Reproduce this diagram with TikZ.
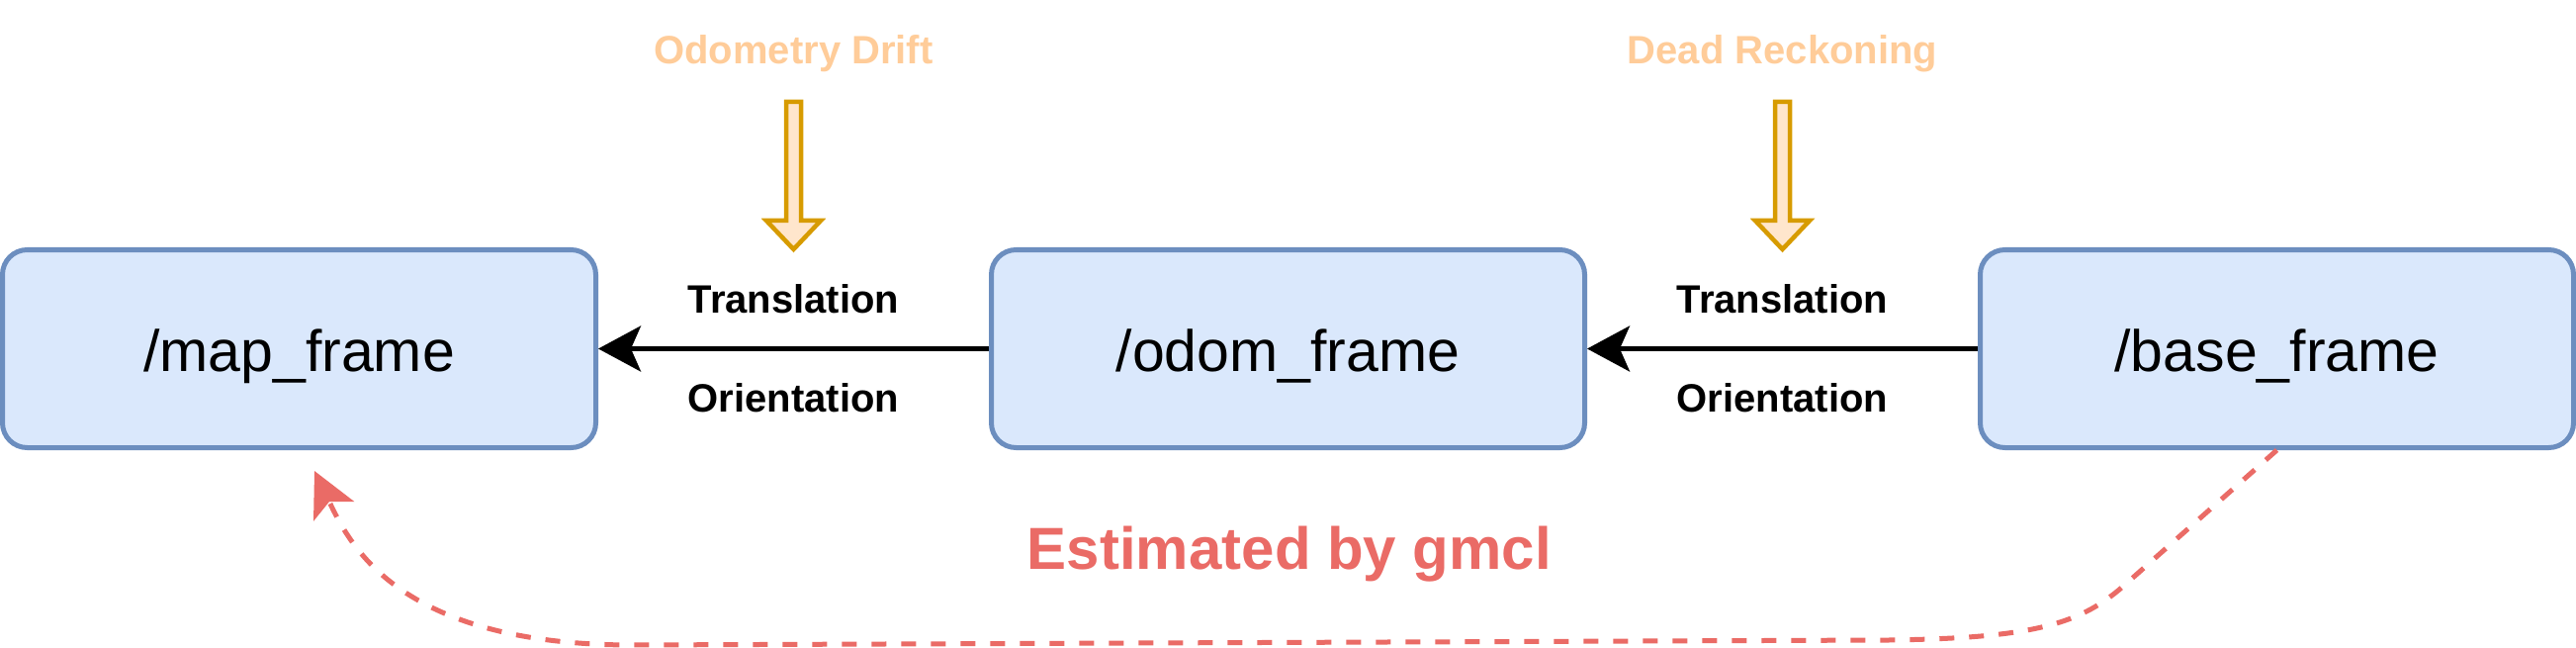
\documentclass[tikz,border=0pt]{standalone}
\usepackage{fontspec}
\setmainfont{Liberation Sans}
\usetikzlibrary{arrows.meta}
\definecolor{boxfill}{HTML}{DAE8FC}
\definecolor{boxline}{HTML}{6C8EBF}
\definecolor{estred}{HTML}{EA6B66}
\definecolor{toptext}{HTML}{FFCC99}
\definecolor{arrowfill}{HTML}{FFE6CC}
\definecolor{arrowline}{HTML}{D79B00}
\begin{document}
\begin{tikzpicture}[x=1pt,y=-1pt,
  frame/.style={draw=boxline, fill=boxfill, line width=5pt, rounded corners=25pt,
    minimum width=600pt, minimum height=200pt, inner sep=0pt,
    font=\fontsize{59}{70}\selectfont, text height=45pt, text depth=0pt},
  conn/.style={line width=4.5pt, -{Stealth[length=43pt,width=46pt,inset=10pt]}},
  lbl/.style={font=\bfseries\fontsize{40}{48}\selectfont, inner sep=0pt, anchor=base},
  toplbl/.style={lbl, text=toptext},
  blockarrow/.style={draw=arrowline, fill=arrowfill, line width=4.5pt, line join=miter},
  estline/.style={draw=estred, line width=5pt, dash pattern=on 15pt off 15pt,
    -{Stealth[length=45pt,width=45pt,inset=10.5pt]}},
  estlbl/.style={font=\bfseries\fontsize{60}{72}\selectfont, text=estred, inner sep=0pt, anchor=base}
]
\useasboundingbox (0,0) rectangle (2605,655);

\node[frame] (map)  at (302.5,352.5)  {/map\_frame};
\node[frame] (odom) at (1302.5,352.5) {/odom\_frame};
\node[frame] (base) at (2302.5,352.5) {/base\_frame};

\draw[conn] (odom.west) -- (map.east)
  node[midway, lbl, yshift=36pt] {Translation}
  node[midway, lbl, yshift=-64pt] {Orientation};
\draw[conn] (base.west) -- (odom.east)
  node[midway, lbl, yshift=36pt] {Translation}
  node[midway, lbl, yshift=-64pt] {Orientation};

\node[toplbl] (drift) at (802.5,65) {Odometry Drift};
\node[toplbl] (dead) at (1802.5,65) {Dead Reckoning};

\draw[blockarrow] (795,103) -- (810,103) -- (810,223) -- (830,223) -- (802.5,252)
  -- (775,223) -- (795,223) -- cycle;
\draw[blockarrow] (1795,103) -- (1810,103) -- (1810,223) -- (1830,223) -- (1802.5,252)
  -- (1775,223) -- (1795,223) -- cycle;

\coordinate (esttip) at (318,476);
\draw[estline] (base.south) -- (2150,590)
  .. controls (2105.6,630) and (2060,645) .. (1910,647)
  -- (640,652) .. controls (400,652) and (352.6,548) .. (esttip);
\node[estlbl] (est) at (1304,575) {Estimated by gmcl};
\end{tikzpicture}
\end{document}
